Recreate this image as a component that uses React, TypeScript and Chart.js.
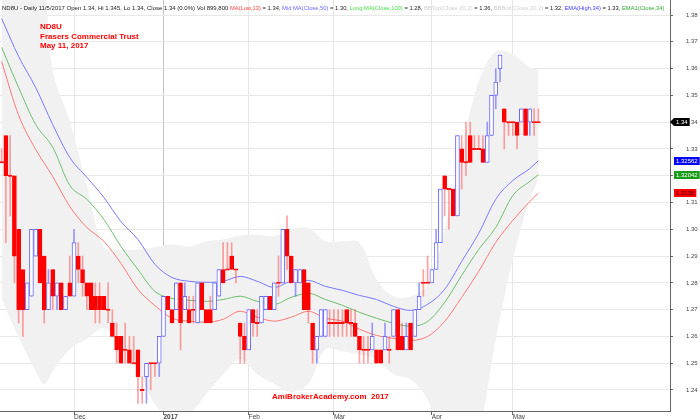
import React, { useEffect, useRef } from 'react';
import { Chart, registerables } from 'chart.js';

Chart.register(...registerables);

// ---------- data ----------
const openP = [
  1.325, 1.335, 1.32, 1.32, 1.30, 1.285, 1.27, 1.275, 1.29, 1.30,
  1.29, 1.27, 1.285, 1.275, 1.28, 1.27, 1.28, 1.275, 1.29, 1.285,
  1.28, 1.28, 1.275, 1.275, 1.275, 1.27, 1.265, 1.26, 1.26, 1.255,
  1.255, 1.25, 1.255, 1.24, 1.245, 1.25, 1.25, 1.25, 1.26, 1.275,
  1.27, 1.27, 1.28, 1.27, 1.27, 1.27, 1.265, 1.28, 1.27, 1.27,
  1.27, 1.275, 1.285, 1.285, 1.29, 1.285, 1.265, 1.26, 1.255, 1.27,
  1.265, 1.265, 1.27, 1.275, 1.27, 1.28, 1.28, 1.30, 1.29, 1.28,
  1.28, 1.285, 1.28, 1.265, 1.255, 1.26, 1.26, 1.265, 1.265, 1.265,
  1.265, 1.27, 1.265, 1.265, 1.26, 1.255, 1.255, 1.255, 1.255, 1.255,
  1.255, 1.255, 1.26, 1.27, 1.26, 1.255, 1.265, 1.26, 1.27, 1.28,
  1.28, 1.28, 1.285, 1.295, 1.32, 1.315, 1.315, 1.305, 1.33, 1.325,
  1.335, 1.33, 1.33, 1.33, 1.325, 1.335, 1.35, 1.36, 1.345, 1.34,
  1.34, 1.34, 1.34, 1.345, 1.34, 1.34, 1.34,
];
const highP = [
  1.33, 1.335, 1.335, 1.32, 1.30, 1.285, 1.28, 1.30, 1.30, 1.30,
  1.29, 1.285, 1.285, 1.28, 1.28, 1.275, 1.29, 1.30, 1.295, 1.29,
  1.28, 1.28, 1.28, 1.28, 1.275, 1.28, 1.27, 1.265, 1.26, 1.265,
  1.26, 1.26, 1.255, 1.245, 1.25, 1.25, 1.25, 1.26, 1.275, 1.275,
  1.27, 1.28, 1.28, 1.28, 1.275, 1.275, 1.28, 1.28, 1.27, 1.275,
  1.28, 1.285, 1.295, 1.295, 1.295, 1.285, 1.265, 1.265, 1.27, 1.27,
  1.27, 1.275, 1.275, 1.275, 1.28, 1.29, 1.30, 1.305, 1.29, 1.285,
  1.285, 1.285, 1.28, 1.265, 1.26, 1.27, 1.27, 1.27, 1.27, 1.27,
  1.27, 1.27, 1.27, 1.27, 1.26, 1.26, 1.26, 1.265, 1.255, 1.255,
  1.265, 1.26, 1.27, 1.27, 1.265, 1.265, 1.265, 1.27, 1.28, 1.285,
  1.29, 1.285, 1.30, 1.315, 1.32, 1.315, 1.315, 1.335, 1.335, 1.34,
  1.34, 1.335, 1.335, 1.335, 1.34, 1.35, 1.36, 1.365, 1.345, 1.34,
  1.34, 1.34, 1.345, 1.345, 1.345, 1.345, 1.345,
];
const lowP = [
  1.325, 1.295, 1.305, 1.28, 1.265, 1.26, 1.27, 1.275, 1.29, 1.28,
  1.265, 1.27, 1.27, 1.27, 1.27, 1.27, 1.275, 1.275, 1.28, 1.275,
  1.27, 1.27, 1.265, 1.265, 1.27, 1.265, 1.26, 1.25, 1.25, 1.25,
  1.25, 1.25, 1.235, 1.235, 1.235, 1.24, 1.245, 1.245, 1.26, 1.27,
  1.265, 1.27, 1.255, 1.27, 1.265, 1.265, 1.265, 1.27, 1.265, 1.265,
  1.27, 1.275, 1.28, 1.285, 1.285, 1.28, 1.25, 1.25, 1.255, 1.26,
  1.26, 1.265, 1.27, 1.27, 1.27, 1.275, 1.28, 1.285, 1.28, 1.275,
  1.28, 1.27, 1.265, 1.25, 1.25, 1.26, 1.26, 1.26, 1.26, 1.26,
  1.26, 1.26, 1.26, 1.26, 1.25, 1.25, 1.25, 1.255, 1.25, 1.25,
  1.255, 1.25, 1.26, 1.255, 1.255, 1.255, 1.255, 1.26, 1.27, 1.275,
  1.28, 1.28, 1.285, 1.295, 1.305, 1.30, 1.305, 1.305, 1.315, 1.32,
  1.325, 1.33, 1.33, 1.325, 1.325, 1.335, 1.345, 1.355, 1.33, 1.335,
  1.335, 1.33, 1.34, 1.335, 1.335, 1.335, 1.34,
];
const closeP = [
  1.325, 1.32, 1.32, 1.29, 1.27, 1.27, 1.28, 1.30, 1.30, 1.28,
  1.27, 1.28, 1.275, 1.28, 1.27, 1.275, 1.275, 1.295, 1.285, 1.28,
  1.275, 1.27, 1.27, 1.27, 1.27, 1.27, 1.26, 1.255, 1.25, 1.255,
  1.25, 1.25, 1.245, 1.24, 1.25, 1.25, 1.25, 1.26, 1.275, 1.27,
  1.265, 1.28, 1.265, 1.275, 1.265, 1.27, 1.28, 1.27, 1.265, 1.265,
  1.28, 1.285, 1.28, 1.285, 1.285, 1.285, 1.26, 1.255, 1.27, 1.265,
  1.265, 1.275, 1.275, 1.27, 1.28, 1.28, 1.30, 1.29, 1.28, 1.285,
  1.285, 1.27, 1.27, 1.255, 1.26, 1.27, 1.27, 1.265, 1.265, 1.265,
  1.265, 1.265, 1.265, 1.26, 1.255, 1.255, 1.255, 1.26, 1.25, 1.25,
  1.26, 1.255, 1.27, 1.255, 1.255, 1.26, 1.255, 1.27, 1.275, 1.28,
  1.28, 1.285, 1.295, 1.315, 1.315, 1.315, 1.305, 1.335, 1.325, 1.325,
  1.325, 1.33, 1.33, 1.325, 1.335, 1.35, 1.355, 1.365, 1.34, 1.34,
  1.34, 1.335, 1.345, 1.335, 1.345, 1.34, 1.34,
];

// moving averages, sampled at these bar indices
const lineIdx = [0, 4, 8, 12, 16, 20, 24, 28, 32, 36, 40, 44, 48, 52, 56, 60, 64, 68, 72, 76, 80, 84, 88, 92, 96, 100, 104, 108, 112, 116, 120, 124, 126];
const emaHigh = [1.3787, 1.3645, 1.3529, 1.3391, 1.3268, 1.3194, 1.3119, 1.3029, 1.2962, 1.2869, 1.2820, 1.2806, 1.2802, 1.2806, 1.2824, 1.2806, 1.2783, 1.2806, 1.2809, 1.2787, 1.2772, 1.2753, 1.2738, 1.2712, 1.2697, 1.2720, 1.2776, 1.2880, 1.2985, 1.3112, 1.3182, 1.3227, 1.3256];
const emaClose = [1.3679, 1.3529, 1.3391, 1.3306, 1.3164, 1.3112, 1.3037, 1.2936, 1.2850, 1.2768, 1.2742, 1.2735, 1.2731, 1.2738, 1.2750, 1.2731, 1.2720, 1.2746, 1.2761, 1.2738, 1.2716, 1.2690, 1.2668, 1.2649, 1.2638, 1.2656, 1.2727, 1.2828, 1.2925, 1.3007, 1.3126, 1.3179, 1.3204];
const maLow = [1.3627, 1.3425, 1.3298, 1.3197, 1.3085, 1.3007, 1.2955, 1.2873, 1.2776, 1.2715, 1.2668, 1.2657, 1.2653, 1.2664, 1.2694, 1.2672, 1.2657, 1.2672, 1.2694, 1.2668, 1.2657, 1.2627, 1.2604, 1.2593, 1.2585, 1.2600, 1.2656, 1.2746, 1.2843, 1.2951, 1.3033, 1.3104, 1.3135];

// bollinger band, sampled at these bar indices
const bandIdx = [0, 4, 8, 10, 12, 16, 20, 24, 28, 32, 36, 40, 44, 48, 52, 56, 60, 64, 68, 72, 76, 80, 84, 88, 92, 96, 100, 104, 108, 112, 116, 120, 124, 126];
const bandTop = [1.400, 1.400, 1.398, 1.392, 1.359, 1.3403, 1.3165, 1.2933, 1.2925, 1.2925, 1.2933, 1.2944, 1.2936, 1.2955, 1.2962, 1.2977, 1.2980, 1.2975, 1.3000, 1.3005, 1.2955, 1.2955, 1.2951, 1.2813, 1.2750, 1.2750, 1.2794, 1.2999, 1.3298, 1.3552, 1.3664, 1.3653, 1.3604, 1.3597];
const bandBottom = [1.2738, 1.2597, 1.2470, 1.2422, 1.2470, 1.2552, 1.2590, 1.2630, 1.2571, 1.2477, 1.2347, 1.2291, 1.2309, 1.2384, 1.2459, 1.2515, 1.2459, 1.2422, 1.2392, 1.2422, 1.2552, 1.2545, 1.2533, 1.2515, 1.2459, 1.2440, 1.2365, 1.2216, 1.2179, 1.2253, 1.2589, 1.2888, 1.3112, 1.3187];

// axes
const tickIndex = [17, 38, 58, 78, 101, 120];
const tickLabels = ['Dec', '2017', 'Feb', 'Mar', 'Apr', 'May'];
const yTicks = [1.24, 1.25, 1.26, 1.27, 1.28, 1.29, 1.30, 1.31, 1.32, 1.33, 1.34, 1.35, 1.36, 1.37, 1.38];

// right-hand price tags
const tagValues = [1.34, 1.32562, 1.32042, 1.3135];
const tagTexts = ['1.34', '1.32562', '1.32042', '1.3135'];

const headerParts: [string, string][] = [
  ['ND8U - Daily 11/5/2017 Open 1.34, Hi 1.345, Lo 1.34, Close 1.34 (0.0%) Vol 899,800 ', '#222222'],
  ['MA(Low,13)', '#ff4040'],
  [' = 1.34, ', '#222222'],
  ['Mid MA(Close,50)', '#6a6aff'],
  [' = 1.30, ', '#222222'],
  ['Long MA(Close,100)', '#44dd44'],
  [' = 1.28, ', '#222222'],
  ['BBTop(Close,20,2)', '#cfcfcf'],
  [' = 1.36, ', '#222222'],
  ['BBBott(Close,20,2)', '#cfcfcf'],
  [' = 1.32, ', '#222222'],
  ['EMA(High,34)', '#4040ff'],
  [' = 1.33, ', '#222222'],
  ['EMA1(Close,34)', '#33aa33'],
];
const titleLines = ['ND8U', 'Frasers Commercial Trust', 'May 11, 2017'];
const footerText = 'AmiBrokerAcademy.com  2017';

const FONT = '"Liberation Sans", Arial, sans-serif';

export default function App() {
  const ref = useRef<HTMLCanvasElement>(null);

  useEffect(() => {
    const isUp = (i: number) => closeP[i] > openP[i];
    const eps = 0.00025;

    const wickData = openP.map((_, i) => ({ x: i, y: [lowP[i], highP[i]] }));
    const bodyData = openP.map((o, i) => {
      const lo = Math.min(o, closeP[i]);
      const hi = Math.max(o, closeP[i]);
      return { x: i, y: lo === hi ? [lo - eps, hi + eps] : [lo, hi] };
    });
    const wickColors = openP.map((_, i) => (isUp(i) ? 'rgba(90,90,255,0.6)' : 'rgba(255,70,70,0.5)'));
    const bodyFill = openP.map((_, i) => (isUp(i) ? '#ffffff' : '#ff0000'));
    const bodyBorder = openP.map((_, i) => (isUp(i) ? '#6b6bff' : '#ff0000'));

    const pts = (idx: number[], vals: number[]) => idx.map((x, k) => ({ x, y: vals[k] }));

    const tagPlugin = {
      id: 'priceTags',
      afterDraw(chart: any) {
        const ctx = chart.ctx as CanvasRenderingContext2D;
        const ys = chart.scales.y;
        const right = chart.chartArea.right;
        ctx.save();
        ctx.font = '6px ' + FONT;
        ctx.textBaseline = 'middle';
        const bg = ['#000000', '#0000ff', '#1a9a1a', '#ff0000'];
        const fg = ['#ffffff', '#ffffff', '#ffffff', '#3a0000'];
        tagValues.forEach((v, k) => {
          const py = Math.round(ys.getPixelForValue(v));
          const w = ctx.measureText(tagTexts[k]).width + 4;
          ctx.fillStyle = bg[k];
          if (k === 0) {
            const x0 = right + 2;
            ctx.beginPath();
            ctx.moveTo(x0 - 2, py);
            ctx.lineTo(x0 + 2, py - 4);
            ctx.lineTo(x0 + 2 + w, py - 4);
            ctx.lineTo(x0 + 2 + w, py + 4);
            ctx.lineTo(x0 + 2, py + 4);
            ctx.closePath();
            ctx.fill();
            ctx.fillStyle = fg[k];
            ctx.fillText(tagTexts[k], x0 + 4, py + 0.5);
          } else {
            const x0 = right + 4;
            ctx.fillRect(x0, py - 4, w, 8);
            ctx.fillStyle = fg[k];
            ctx.fillText(tagTexts[k], x0 + 2, py + 0.5);
          }
        });
        ctx.restore();
      },
    };

    const chart = new Chart(ref.current as HTMLCanvasElement, {
      type: 'bar',
      data: {
        datasets: [
          {
            type: 'line',
            data: pts(bandIdx, bandTop),
            borderWidth: 0,
            pointRadius: 0,
            tension: 0.35,
            fill: '+1',
            backgroundColor: '#f1f1f1',
            borderColor: 'rgba(0,0,0,0)',
            order: 10,
          } as any,
          {
            type: 'line',
            data: pts(bandIdx, bandBottom),
            borderWidth: 0,
            pointRadius: 0,
            tension: 0.35,
            fill: false,
            borderColor: 'rgba(0,0,0,0)',
            order: 11,
          } as any,
          {
            type: 'line',
            data: pts(lineIdx, emaHigh),
            borderColor: '#7878ff',
            borderWidth: 1,
            pointRadius: 0,
            cubicInterpolationMode: 'monotone',
            fill: false,
            order: 5,
          } as any,
          {
            type: 'line',
            data: pts(lineIdx, emaClose),
            borderColor: '#6cc06c',
            borderWidth: 1,
            pointRadius: 0,
            cubicInterpolationMode: 'monotone',
            fill: false,
            order: 5,
          } as any,
          {
            type: 'line',
            data: pts(lineIdx, maLow),
            borderColor: '#ff7878',
            borderWidth: 1,
            pointRadius: 0,
            cubicInterpolationMode: 'monotone',
            fill: false,
            order: 5,
          } as any,
          {
            type: 'bar',
            data: wickData,
            backgroundColor: wickColors,
            borderWidth: 0,
            barThickness: 1,
            grouped: false,
            order: 2,
          } as any,
          {
            type: 'bar',
            data: bodyData,
            backgroundColor: bodyFill,
            borderColor: bodyBorder,
            borderWidth: 1,
            borderSkipped: false,
            barThickness: 4,
            grouped: false,
            order: 1,
          } as any,
        ],
      },
      options: {
        animation: false,
        responsive: false,
        maintainAspectRatio: false,
        layout: { padding: 0, autoPadding: false },
        plugins: {
          legend: { display: false },
          tooltip: { enabled: false },
          title: { display: false },
        },
        scales: {
          x: {
            type: 'linear',
            offset: false,
            min: -0.38,
            max: 156.9,
            afterBuildTicks: (s: any) => {
              s.ticks = tickIndex.map((v) => ({ value: v }));
            },
            afterFit: (s: any) => {
              s.height = 8;
              s.paddingLeft = 0;
              s.paddingRight = 0;
              s.paddingTop = 0;
              s.paddingBottom = 0;
            },
            ticks: {
              autoSkip: false,
              maxRotation: 0,
              align: 'start',
              padding: -2,
              color: '#444444',
              font: (c: any) => ({
                size: 6.5,
                family: FONT,
                weight: c.tick && c.tick.value === tickIndex[1] ? 'bold' : 'normal',
              }),
              callback: (_v: any, i: number) => tickLabels[i],
            },
            grid: {
              offset: false,
              color: (c: any) => (c.tick && c.tick.value === tickIndex[1] ? '#c4c4c4' : '#e6e6e6'),
              tickColor: '#666666',
              tickLength: 4,
              drawTicks: true,
            },
            border: { color: '#666666', width: 1 },
          } as any,
          y: {
            type: 'linear',
            position: 'right',
            min: 1.23216,
            max: 1.3856,
            afterBuildTicks: (s: any) => {
              s.ticks = yTicks.map((v) => ({ value: v }));
            },
            afterFit: (s: any) => {
              s.width = 30;
              s.paddingLeft = 0;
              s.paddingRight = 0;
              s.paddingTop = 0;
              s.paddingBottom = 0;
            },
            ticks: {
              padding: 13,
              color: '#444444',
              font: { size: 6, family: FONT },
              callback: (v: any) => Number(v).toFixed(2),
            },
            grid: {
              color: '#e8e8e8',
              tickColor: '#666666',
              tickLength: 3,
            },
            border: { color: '#666666', width: 1 },
          } as any,
        },
      },
      plugins: [tagPlugin],
    } as any);

    return () => chart.destroy();
  }, []);

  return (
    <div
      style={{
        position: 'fixed',
        left: 0,
        top: 0,
        width: 700,
        height: 419,
        background: '#ffffff',
        overflow: 'hidden',
        fontFamily: FONT,
      }}
    >
      <canvas ref={ref} width={700} height={419} style={{ position: 'absolute', left: 0, top: 0 }} />
      <div
        style={{
          position: 'absolute',
          left: 2,
          top: 1,
          lineHeight: '8px',
          whiteSpace: 'pre',
        }}
      >
        {headerParts.map(([t, c], k) => (
          <span key={k} style={{ color: c, fontSize: k === 0 ? 6 : 5.8 }}>
            {t}
          </span>
        ))}
      </div>
      {titleLines.map((t, k) => (
        <div
          key={k}
          style={{
            position: 'absolute',
            left: 40,
            top: 22 + k * 9.5,
            fontSize: 8,
            fontWeight: 'bold',
            lineHeight: '10px',
            color: '#ff0000',
            whiteSpace: 'pre',
          }}
        >
          {t}
        </div>
      ))}
      <div
        style={{
          position: 'absolute',
          left: 272,
          top: 392,
          fontSize: 8,
          fontWeight: 'bold',
          lineHeight: '10px',
          color: '#ff0000',
          whiteSpace: 'pre',
        }}
      >
        {footerText}
      </div>
    </div>
  );
}
